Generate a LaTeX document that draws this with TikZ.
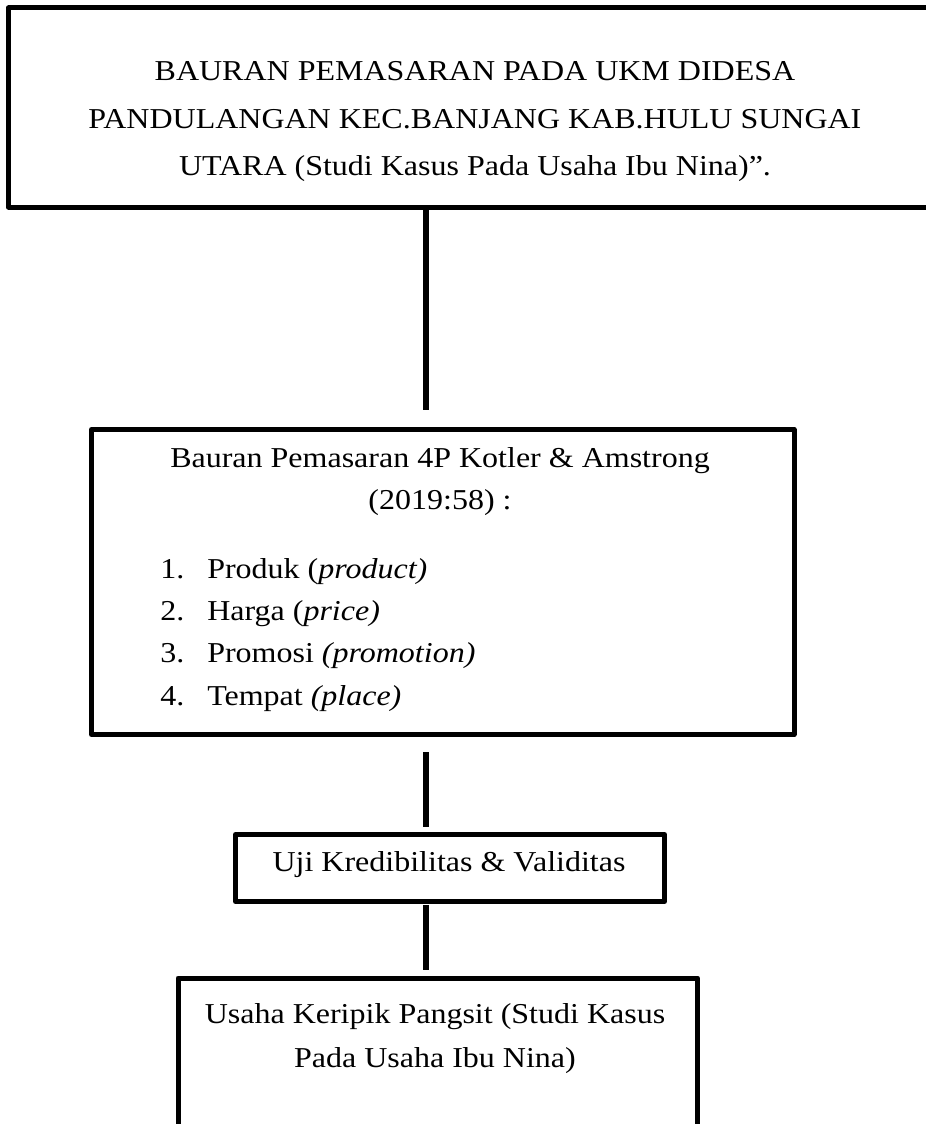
\documentclass[tikz,border=0pt]{standalone}
\usepackage{fontspec}
\usepackage{graphicx}
\setmainfont{Liberation Serif}
\newcommand\sqz[1]{\scalebox{1}[0.9]{#1}}
\begin{document}
\begin{tikzpicture}[x=0.75pt,y=-0.75pt,
  box/.style={draw=black,line width=3.75pt,line join=round,rectangle,inner sep=0pt,anchor=north west},
  conn/.style={draw=black,line width=4.25pt},
  txt/.style={anchor=base,inner sep=0pt,font=\fontsize{24}{28}\selectfont},
  num/.style={anchor=base west,inner sep=0pt,font=\fontsize{24}{28}\selectfont},
]
\useasboundingbox[fill=white] (0,0) rectangle (925,1124);
% boxes
\node[box,minimum width=704.25pt,minimum height=149.25pt] (top) at (6,5.5) {};
\node[box,minimum width=526.9pt,minimum height=228.75pt] (mix) at (89,427) {};
\node[box,minimum width=321.75pt,minimum height=50.25pt] (uji) at (233,832) {};
\node[box,minimum width=389.6pt,minimum height=114.4pt] (usaha) at (175.5,975.5) {};
% connector ends
\coordinate (c1a) at (426,207);
\coordinate (c1b) at (426,410);
\coordinate (c2a) at (426,752);
\coordinate (c2b) at (426,827);
\coordinate (c3a) at (426,905);
\coordinate (c3b) at (426,970);
\draw[conn] (c1a) -- (c1b);
\draw[conn] (c2a) -- (c2b);
\draw[conn] (c3a) -- (c3b);
% texts
\node[txt] (t1) at (475,80) {\sqz{BAURAN PEMASARAN PADA UKM DIDESA}};
\node[txt] (t2) at (475,128) {\sqz{PANDULANGAN KEC.BANJANG KAB.HULU SUNGAI}};
\node[txt] (t3) at (475,175) {\sqz{UTARA (Studi Kasus Pada Usaha Ibu Nina)”.}};
\node[txt] (m1) at (440,467) {\sqz{Bauran Pemasaran 4P Kotler \& Amstrong}};
\node[txt] (m2) at (440,509) {\sqz{(2019:58) :}};
\node[num] (n1) at (160,578) {\sqz{1.}};
\node[num] (i1) at (207,578) {\sqz{Produk (\textit{product)}}};
\node[num] (n2) at (160,620) {\sqz{2.}};
\node[num] (i2) at (207,620) {\sqz{Harga (\textit{price)}}};
\node[num] (n3) at (160,662) {\sqz{3.}};
\node[num] (i3) at (207,662) {\sqz{Promosi \textit{(promotion)}}};
\node[num] (n4) at (160,705) {\sqz{4.}};
\node[num] (i4) at (207,705) {\sqz{Tempat \textit{(place)}}};
\node[txt] (u1) at (449,871) {\sqz{Uji Kredibilitas \& Validitas}};
\node[txt] (k1) at (435,1023) {\sqz{Usaha Keripik Pangsit (Studi Kasus}};
\node[txt] (k2) at (435,1067) {\sqz{Pada Usaha Ibu Nina)}};
\end{tikzpicture}
\end{document}
